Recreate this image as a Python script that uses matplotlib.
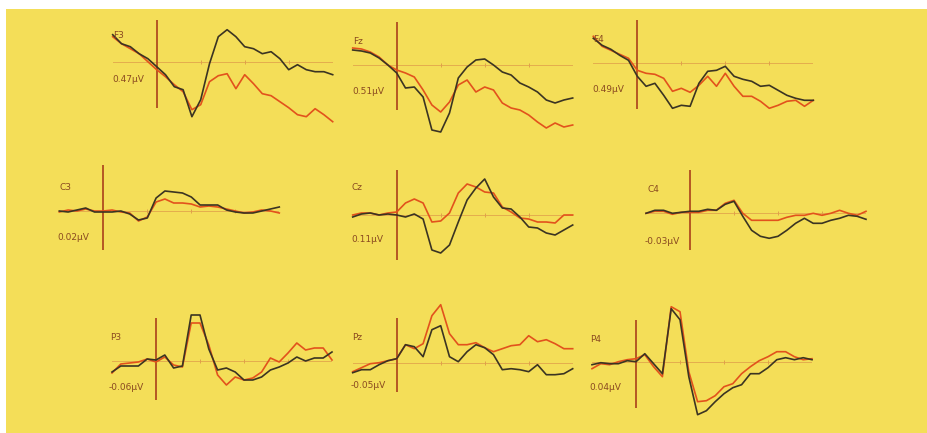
import matplotlib
matplotlib.use("Agg")
import matplotlib.pyplot as plt
from matplotlib.patches import Rectangle

# ---------------- data ----------------
time_ms = list(range(-100, 401, 20))

channels = ["F3", "Fz", "F4", "C3", "Cz", "C4", "P3", "Pz", "P4"]
scale_labels = ["0.47µV", "0.51µV", "0.49µV", "0.02µV", "0.11µV", "-0.03µV",
                "-0.06µV", "-0.05µV", "0.04µV"]

f3_black = [2.7, 1.8, 1.5, 0.8, 0.3, -0.5, -1.3, -2.5, -2.8, -5.5, -3.8, -0.2, 2.5,
            3.2, 2.5, 1.5, 1.3, 0.8, 1.0, 0.3, -0.8, -0.3, -0.8, -1.0, -1.0, -1.3]
f3_red = [2.5, 1.8, 1.3, 0.8, 0.0, -0.8, -1.5, -2.3, -3.0, -4.8, -4.3, -2.0, -1.4,
          -1.2, -2.7, -1.3, -2.2, -3.2, -3.4, -4.0, -4.6, -5.3, -5.5, -4.7, -5.3, -6.0]

fz_black = [1.5, 1.4, 1.2, 0.7, 0.0, -0.8, -2.3, -2.2, -3.2, -6.5, -6.7, -4.8, -1.3,
            -0.2, 0.5, 0.6, 0.0, -0.7, -1.0, -1.8, -2.2, -2.7, -3.5, -3.8, -3.5, -3.3]
fz_red = [1.7, 1.6, 1.3, 0.8, 0.0, -0.5, -0.8, -1.2, -2.5, -4.0, -4.7, -3.7, -2.0,
          -1.5, -2.7, -2.2, -2.5, -3.8, -4.3, -4.5, -5.0, -5.7, -6.3, -5.8, -6.2, -6.0]

f4_black = [2.5, 1.8, 1.4, 0.8, 0.3, -1.3, -2.3, -2.0, -3.2, -4.5, -4.2, -4.3, -2.0,
            -0.8, -0.7, -0.3, -1.3, -1.6, -1.8, -2.3, -2.2, -2.7, -3.2, -3.5, -3.7, -3.7]
f4_red = [2.7, 1.7, 1.3, 0.9, 0.5, -0.7, -1.0, -1.1, -1.5, -2.8, -2.5, -2.9, -2.2,
          -1.3, -2.3, -1.0, -2.3, -3.3, -3.3, -3.8, -4.5, -4.2, -3.8, -3.7, -4.3, -3.7]

c3_black = [0.0, -0.1, 0.1, 0.3, -0.1, -0.1, -0.1, 0.0, -0.3, -0.9, -0.7, 1.3, 2.0,
            1.9, 1.8, 1.4, 0.6, 0.6, 0.6, 0.1, -0.1, -0.2, -0.2, 0.0, 0.2, 0.4]
c3_red = [-0.1, 0.1, 0.0, 0.2, 0.0, 0.0, 0.1, -0.1, -0.2, -1.0, -0.6, 0.9, 1.2,
          0.8, 0.8, 0.7, 0.4, 0.5, 0.4, 0.2, 0.0, -0.2, -0.1, 0.1, 0.0, -0.2]

cz_black = [-0.2, 0.1, 0.2, 0.0, 0.1, 0.0, -0.2, 0.1, -0.4, -3.5, -3.8, -3.0, -0.7,
            1.5, 2.7, 3.6, 1.8, 0.7, 0.6, -0.2, -1.2, -1.3, -1.8, -2.0, -1.5, -1.0]
cz_red = [0.0, 0.2, 0.2, 0.0, 0.2, 0.3, 1.2, 1.6, 1.2, -0.7, -0.6, 0.2, 2.2,
          3.1, 2.8, 2.3, 2.2, 0.8, 0.3, -0.3, -0.4, -0.7, -0.7, -0.8, 0.0, 0.0]

c4_black = [0.0, 0.3, 0.3, 0.0, 0.1, 0.2, 0.2, 0.4, 0.3, 0.9, 1.2, -0.3, -1.7,
            -2.3, -2.5, -2.3, -1.7, -1.0, -0.5, -1.0, -1.0, -0.7, -0.5, -0.2, -0.3, -0.6]
c4_red = [0.0, 0.2, 0.2, -0.1, 0.1, 0.1, 0.1, 0.3, 0.3, 1.0, 1.3, 0.0, -0.7,
          -0.7, -0.7, -0.7, -0.4, -0.2, -0.2, 0.0, -0.2, 0.0, 0.3, 0.0, -0.2, 0.2]

p3_black = [-1.1, -0.5, -0.5, -0.5, 0.2, 0.1, 0.6, -0.7, -0.5, 4.6, 4.6, 1.2, -0.9,
            -0.7, -1.1, -1.9, -1.9, -1.6, -0.9, -0.6, -0.2, 0.4, 0.0, 0.3, 0.3, 0.9]
p3_red = [-1.2, -0.3, -0.2, -0.1, 0.2, -0.1, 0.4, -0.4, -0.6, 3.8, 3.8, 1.6, -1.4,
          -2.4, -1.6, -1.9, -1.7, -1.1, 0.3, -0.1, 0.8, 1.8, 1.1, 1.3, 1.3, 0.1]

pz_black = [-1.0, -0.7, -0.7, -0.2, 0.2, 0.4, 1.8, 1.6, 0.6, 3.3, 3.7, 0.6, 0.1,
            1.1, 1.8, 1.5, 0.8, -0.7, -0.6, -0.7, -0.9, -0.2, -1.2, -1.2, -1.1, -0.6]
pz_red = [-0.9, -0.5, -0.1, 0.0, 0.2, 0.4, 1.8, 1.4, 1.9, 4.7, 5.8, 2.9, 1.8,
          1.8, 2.0, 1.5, 1.1, 1.4, 1.7, 1.8, 2.7, 2.1, 2.3, 1.9, 1.4, 1.4]

p4_black = [-0.3, -0.1, -0.2, -0.2, 0.1, 0.0, 0.8, -0.2, -1.2, 5.3, 4.2, -1.5, -5.3,
            -4.9, -4.0, -3.2, -2.6, -2.3, -1.2, -1.2, -0.6, 0.2, 0.4, 0.2, 0.4, 0.2]
p4_red = [-0.7, -0.2, -0.3, 0.0, 0.2, 0.3, 0.7, -0.5, -1.5, 5.5, 5.0, -1.0, -4.0,
          -3.9, -3.4, -2.5, -2.2, -1.2, -0.5, 0.1, 0.5, 1.0, 1.0, 0.5, 0.2, 0.3]

black_series = [f3_black, fz_black, f4_black, c3_black, cz_black, c4_black,
                p3_black, pz_black, p4_black]
red_series = [f3_red, fz_red, f4_red, c3_red, cz_red, c4_red,
              p3_red, pz_red, p4_red]

# ---------------- layout (pixels) ----------------
W, H = 927, 433
PX_PER_UV = 10.0
PX_PER_MS = 0.44
# vline x, baseline y, line top, line bottom, name (x,y), scale label (x,y)
layout = [
    (156.7, 61.7, 20, 108, (113, 36), (112, 80)),
    (396.7, 65.0, 22, 110, (353, 41), (352, 91)),
    (637.3, 63.3, 20, 109, (593, 39), (592, 89)),
    (103.3, 211.0, 165, 250, (59, 188), (57, 238)),
    (396.7, 215.0, 170, 260, (352, 187), (351, 240)),
    (690.0, 213.3, 170, 250, (647, 190), (645, 241)),
    (156.0, 361.0, 318, 400, (110, 338), (109, 387)),
    (396.7, 362.7, 318, 392, (352, 338), (351, 386)),
    (636.0, 361.7, 320, 408, (590, 340), (589, 388)),
]

BG = "#F4DE58"
BLACK = "#3b3422"
RED = "#e2521c"
VLINE = "#b04c1f"
BASE = "#e0a04a"
TXT = "#8a4a20"

fig = plt.figure(figsize=(W / 100, H / 100), dpi=100)
fig.patch.set_facecolor("white")
fig.patches.append(Rectangle((6 / W, 0), 1 - 6 / W, 1 - 9 / H,
                             transform=fig.transFigure, facecolor=BG,
                             edgecolor="none", zorder=-10))

t0, t1 = time_ms[0], time_ms[-1]
for i, ch in enumerate(channels):
    vx, base, top, bot, name_pos, lab_pos = layout[i]
    left = vx + t0 * PX_PER_MS
    width = (t1 - t0) * PX_PER_MS
    ax = fig.add_axes([left / W, 1 - bot / H, width / W, (bot - top) / H])
    ax.set_xlim(t0, t1)
    ax.set_ylim(-(bot - base) / PX_PER_UV, (base - top) / PX_PER_UV)
    ax.axis("off")
    ax.patch.set_alpha(0)
    ax.axhline(0, color=BASE, lw=0.7, alpha=0.8, zorder=1)
    ax.plot([100, 200, 300], [0, 0, 0], ls="none", marker="|", ms=3,
            mew=0.7, color=BASE, zorder=1)
    ax.axvline(0, color=VLINE, lw=1.3, zorder=2)
    ax.plot(time_ms, red_series[i], color=RED, lw=1.2, clip_on=False, zorder=3)
    ax.plot(time_ms, black_series[i], color=BLACK, lw=1.2, clip_on=False, zorder=4)
    fig.text(name_pos[0] / W, 1 - name_pos[1] / H, ch, fontsize=6.5,
             color=TXT, ha="left", va="center")
    fig.text(lab_pos[0] / W, 1 - lab_pos[1] / H, scale_labels[i], fontsize=6.5,
             color=TXT, ha="left", va="center")

fig.savefig("out.png", dpi=100, facecolor=fig.get_facecolor())
